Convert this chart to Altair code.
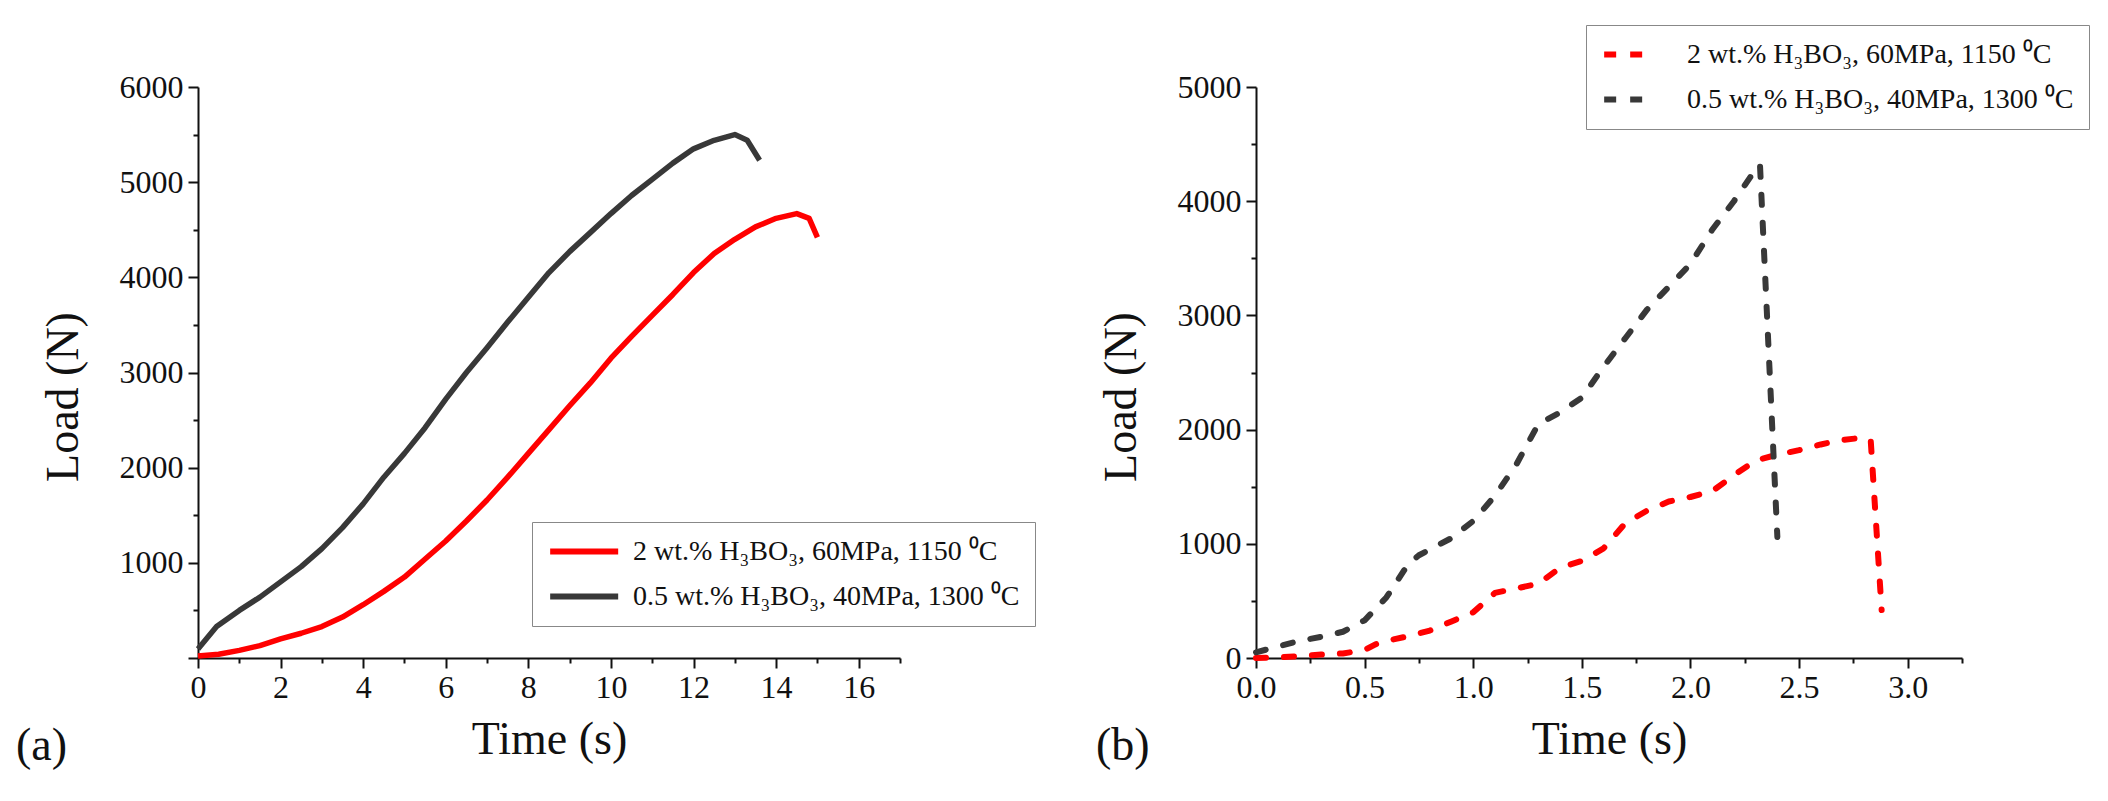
import altair as alt
import pandas as pd

FONT = "Liberation Serif"

series_red = "2 wt.% H₃BO₃, 60MPa, 1150 ⁰C"
series_blk = "0.5 wt.% H₃BO₃, 40MPa, 1300 ⁰C"
series_names = [series_red, series_blk]
series_colors = ["#ff0000", "#383838"]
panel_labels = ["(a)", "(b)"]

# ---- Panel (a): solid curves ----
a_red_time = [0, 0.5, 1.0, 1.5, 2.0, 2.5, 3.0, 3.5, 4.0, 4.5, 5.0, 5.5, 6.0, 6.5, 7.0, 7.5,
              8.0, 8.5, 9.0, 9.5, 10.0, 10.5, 11.0, 11.5, 12.0, 12.5, 13.0, 13.5, 14.0,
              14.5, 14.8, 15.0]
a_red_load = [20, 40, 80, 130, 200, 260, 330, 430, 560, 700, 850, 1040, 1230, 1440, 1660,
              1900, 2150, 2400, 2650, 2890, 3150, 3380, 3600, 3820, 4050, 4250, 4400, 4530,
              4620, 4670, 4620, 4420]
a_blk_time = [0, 0.45, 1.0, 1.5, 2.0, 2.5, 3.0, 3.5, 4.0, 4.5, 5.0, 5.5, 6.0, 6.5, 7.0,
              7.5, 8.0, 8.5, 9.0, 9.5, 10.0, 10.5, 11.0, 11.5, 12.0, 12.5, 13.0, 13.3, 13.6]
a_blk_load = [95, 330, 500, 640, 800, 960, 1150, 1370, 1620, 1900, 2150, 2420, 2720, 3000,
              3260, 3530, 3790, 4050, 4270, 4470, 4670, 4860, 5030, 5200, 5350, 5440, 5500,
              5440, 5230]

# ---- Panel (b): dashed curves ----
b_red_time = [0.0, 0.1, 0.2, 0.3, 0.4, 0.5, 0.55, 0.6, 0.7, 0.8, 0.9, 1.0, 1.1, 1.2, 1.3,
              1.4, 1.5, 1.6, 1.7, 1.8, 1.9, 2.0, 2.1, 2.2, 2.3, 2.4, 2.5, 2.6, 2.7, 2.8,
              2.83, 2.88]
b_red_load = [0, 5, 15, 30, 40, 70, 120, 150, 190, 240, 320, 400, 570, 610, 650, 790, 850,
              960, 1180, 1290, 1370, 1410, 1460, 1600, 1730, 1780, 1820, 1870, 1910, 1930,
              1900, 420]
b_blk_time = [0.0, 0.1, 0.2, 0.3, 0.4, 0.5, 0.6, 0.7, 0.75, 0.8, 0.9, 1.0, 1.1, 1.2, 1.3,
              1.4, 1.5, 1.6, 1.7, 1.8, 1.9, 2.0, 2.1, 2.2, 2.3, 2.32, 2.4]
b_blk_load = [50, 100, 150, 185, 230, 330, 530, 820, 900, 950, 1050, 1200, 1420, 1700,
              2050, 2150, 2280, 2550, 2800, 3050, 3250, 3450, 3750, 4000, 4280, 4320, 1060]

# ---- Axis ticks ----
a_x_ticks = list(range(0, 18))
a_y_ticks = list(range(0, 6001, 500))
b_x_ticks = [i * 0.25 for i in range(0, 14)]
b_y_ticks = list(range(0, 5001, 500))


def frame(t_red, l_red, t_blk, l_blk):
    rows = []
    for i, (t, l) in enumerate(zip(t_red, l_red)):
        rows.append({"t": t, "load": l, "series": series_red, "o": i})
    for i, (t, l) in enumerate(zip(t_blk, l_blk)):
        rows.append({"t": t, "load": l, "series": series_blk, "o": i})
    return pd.DataFrame(rows)


df_a = frame(a_red_time, a_red_load, a_blk_time, a_blk_load)
df_b = frame(b_red_time, b_red_load, b_blk_time, b_blk_load)

W1, W2, H = 702, 706, 571

axis_style = dict(
    domainColor="#111", domainWidth=2, tickColor="#111", tickWidth=2,
    labelFont=FONT, labelFontSize=32, labelColor="#111",
    titleFont=FONT, titleFontSize=46, titleFontWeight="normal", titleColor="#111",
    grid=False, labelOverlap=False, labelFlush=False,
)


def legend(x, y, path, dash=None):
    kw = dict(
        title=None, orient="none", legendX=x, legendY=y,
        symbolType=path, symbolSize=514, symbolStrokeWidth=6,
        labelFont=FONT, labelFontSize=28, labelColor="#111", labelLimit=0,
        labelOffset=57, strokeColor="#888", fillColor="white", padding=15,
        rowPadding=16,
    )
    if dash:
        kw["symbolDash"] = dash
    return alt.Legend(**kw)


color_a = alt.Color("series:N", scale=alt.Scale(domain=series_names, range=series_colors),
                    legend=legend(334, 435, "M-1,0L5,0"))
color_b = alt.Color("series:N", scale=alt.Scale(domain=series_names, range=series_colors),
                    legend=legend(330, -62, "M-1,0L3,0", [12, 14]))

lines_a = alt.Chart(df_a).mark_line(strokeWidth=5.5, strokeJoin="round").encode(
    x=alt.X("t:Q", scale=alt.Scale(domain=[0, 17], nice=False, zero=False),
            axis=alt.Axis(values=a_x_ticks, format="d", title="Time (s)", titlePadding=14,
                          labelExpr="datum.value % 2 === 0 && datum.value <= 16 ? datum.label : ''",
                          tickSize={"condition": {"test": "datum.value % 2 === 0", "value": 10}, "value": 5},
                          labelPadding=4, **axis_style)),
    y=alt.Y("load:Q", scale=alt.Scale(domain=[0, 6000], nice=False),
            axis=alt.Axis(values=a_y_ticks, format="d", title="Load (N)", titlePadding=32,
                          titleY=H / 2 + 24,
                          labelExpr="datum.value % 1000 === 0 && datum.value > 0 ? datum.label : ''",
                          tickSize={"condition": {"test": "datum.value % 1000 === 0", "value": 10}, "value": 5},
                          labelPadding=5, **axis_style)),
    color=color_a,
    order="o:Q",
)

lines_b = alt.Chart(df_b).mark_line(strokeWidth=6, strokeDash=[10, 18], strokeCap="round",
                                    strokeJoin="round").encode(
    x=alt.X("t:Q", scale=alt.Scale(domain=[0, 3.25], nice=False, zero=False),
            axis=alt.Axis(values=b_x_ticks, format=".1f", title="Time (s)", titlePadding=14,
                          labelExpr="datum.value % 0.5 === 0 && datum.value <= 3 ? datum.label : ''",
                          tickSize={"condition": {"test": "datum.value % 0.5 === 0", "value": 10}, "value": 5},
                          labelPadding=4, **axis_style)),
    y=alt.Y("load:Q", scale=alt.Scale(domain=[0, 5000], nice=False),
            axis=alt.Axis(values=b_y_ticks, format="d", title="Load (N)", titlePadding=32,
                          titleY=H / 2 + 24,
                          labelExpr="datum.value % 1000 === 0 ? datum.label : ''",
                          tickSize={"condition": {"test": "datum.value % 1000 === 0", "value": 10}, "value": 5},
                          labelPadding=5, **axis_style)),
    color=color_b,
    order="o:Q",
)


def panel_label(txt, dx):
    return alt.Chart(pd.DataFrame({"lab": [txt]})).mark_text(
        font=FONT, fontSize=46, color="#111", align="left", baseline="alphabetic"
    ).encode(text="lab:N", x=alt.value(dx), y=alt.value(H + 102))


left = alt.layer(lines_a, panel_label(panel_labels[0], -182)).properties(width=W1, height=H)
right = alt.layer(lines_b, panel_label(panel_labels[1], -160)).properties(width=W2, height=H)

chart = alt.hconcat(left, right, spacing=60).resolve_scale(color="independent").resolve_legend(
    color="independent"
).configure(
    padding={"left": 8, "top": 16, "right": 5, "bottom": 5}, background="white"
).configure_view(stroke=None)

chart.save("out.html", embed_options={"renderer": "svg", "actions": False})
